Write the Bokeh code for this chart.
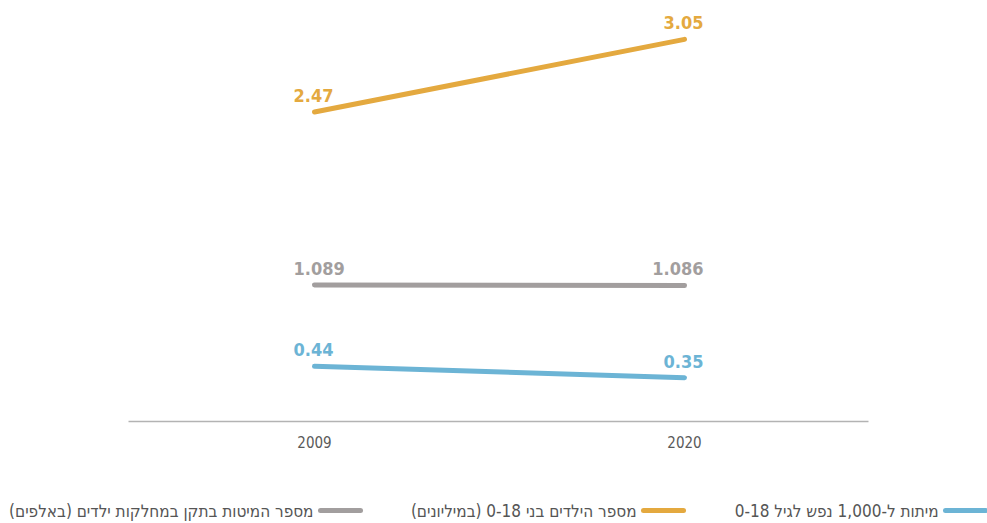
from bokeh.plotting import figure
from bokeh.models import ColumnDataSource, Range1d, FixedTicker
from bokeh.layouts import column
from bokeh.core.properties import value
from bokeh.embed import file_html
from bokeh.resources import INLINE

# ---- data ----
years = [2009, 2020]
year_labels = ["2009", "2020"]
children_millions = [2.47, 3.05]
beds_thousands = [1.089, 1.086]
beds_per_1000 = [0.44, 0.35]

series_names = [
    "מיתות ל-1,000 נפש לגיל 0-18",
    "מספר הילדים בני 0-18 (במיליונים)",
    "מספר המיטות בתקן במחלקות ילדים (באלפים)",
]

FONT = "DejaVu Sans Condensed"
BLUE = "#6cb4d5"
ORANGE = "#e4a93f"
GRAY = "#a29e9e"

series = [
    (beds_per_1000, BLUE, "{:.2f}", series_names[0]),
    (children_millions, ORANGE, "{:.2f}", series_names[1]),
    (beds_thousands, GRAY, "{:.3f}", series_names[2]),
]

W = 987
# layout: first year at 314px, last year at 684px, axis line from 128px to 868px
px_per_year = (684 - 314) / (years[1] - years[0])
x_start = years[0] - 314 / px_per_year
x_end = x_start + W / px_per_year


def px_to_x(px):
    return x_start + px / px_per_year


p = figure(width=W, height=470, x_range=Range1d(x_start, x_end),
           y_range=Range1d(0, 3.32), output_backend="svg", toolbar_location=None,
           min_border_left=0, min_border_right=0, min_border_top=5, min_border_bottom=49)
p.outline_line_color = None
p.grid.grid_line_color = None
p.yaxis.visible = False
p.xaxis.ticker = FixedTicker(ticks=years)
p.xaxis.major_label_overrides = {y: l for y, l in zip(years, year_labels)}
p.xaxis.bounds = (px_to_x(128), px_to_x(868))
p.xaxis.major_tick_line_color = None
p.xaxis.minor_tick_line_color = None
p.xaxis.axis_line_color = "#b3b3b3"
p.xaxis.axis_line_width = 1.5
p.xaxis.major_label_text_font = FONT
p.xaxis.major_label_text_font_size = "15px"
p.xaxis.major_label_text_color = "#5a5a5a"
p.xaxis.major_label_standoff = 8

for vals, color, fmt, name in series:
    src = ColumnDataSource(dict(x=years, y=vals))
    p.line("x", "y", source=src, line_color=color, line_width=5, line_cap="round")
    left = ColumnDataSource(dict(x=years[:1], y=vals[:1], t=[fmt.format(vals[0])]))
    right = ColumnDataSource(dict(x=years[1:], y=vals[1:], t=[fmt.format(vals[1])]))
    p.text("x", "y", text="t", source=left, text_font=value(FONT), text_font_style="bold",
           text_font_size="18px", text_color=color, text_align="left",
           text_baseline="bottom", x_offset=-21, y_offset=-10)
    p.text("x", "y", text="t", source=right, text_font=value(FONT), text_font_style="bold",
           text_font_size="18px", text_color=color, text_align="right",
           text_baseline="bottom", x_offset=19, y_offset=-10)

# ---- legend (RTL, glyph on the right of the text) ----
lg = figure(width=W, height=53, x_range=Range1d(0, W), y_range=Range1d(0, 53),
            output_backend="svg", toolbar_location=None,
            min_border_left=0, min_border_right=0, min_border_top=0, min_border_bottom=0)
lg.axis.visible = False
lg.grid.grid_line_color = None
lg.outline_line_color = None

legend_line_x0 = [945, 643, 320]
legend_line_len = 40
legend_y = 13
for (vals, color, fmt, name), x0 in zip(series, legend_line_x0):
    lg.segment(x0=[x0], y0=[legend_y], x1=[x0 + legend_line_len], y1=[legend_y],
               line_color=color, line_width=5, line_cap="round")
    lg.text(x=[x0 - 7], y=[legend_y], text=[name], text_font=value(FONT),
            text_font_size="17px", text_color="#555555", text_align="right",
            text_baseline="middle")

layout = column(p, lg, spacing=0)
open("out.html", "w").write(file_html(layout, INLINE))
